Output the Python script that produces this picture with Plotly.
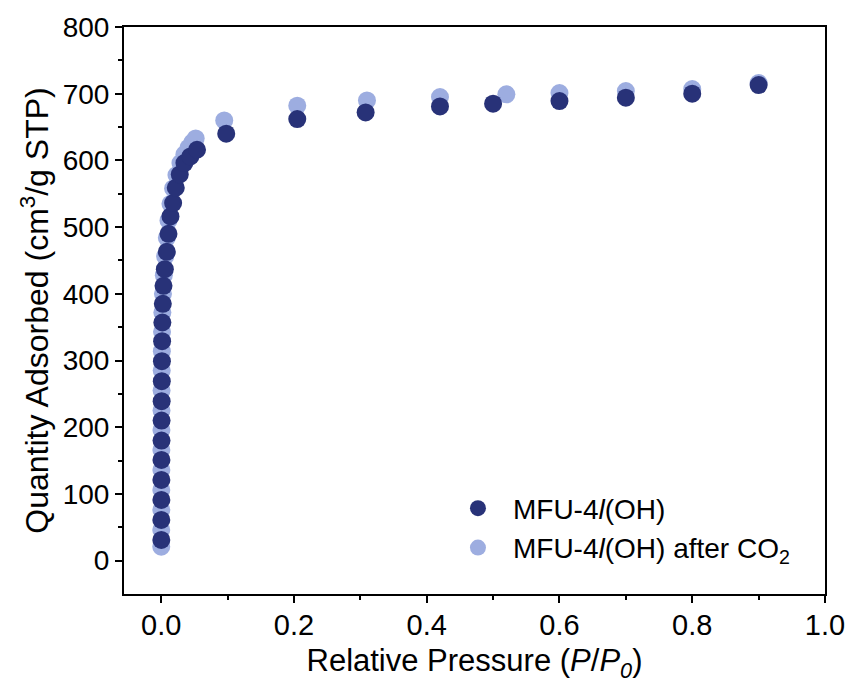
import plotly.graph_objects as go

# MFU-4l(OH) (dark)
x_dark = [0.0002, 0.0002, 0.0003, 0.0003, 0.0004, 0.0005, 0.0006, 0.0007, 0.0009, 0.0011,
          0.0014, 0.0018, 0.0025, 0.0035, 0.0055, 0.0085, 0.011, 0.014, 0.018, 0.022,
          0.028, 0.035, 0.044, 0.054, 0.098, 0.205, 0.308, 0.42, 0.5, 0.6, 0.7, 0.8, 0.9]
y_dark = [31, 61, 91, 121, 151, 180, 210, 239, 269, 299,
          329, 357, 385, 412, 437, 463, 490, 516, 536, 559,
          579, 596, 606, 616, 640, 662, 672, 681, 685, 689, 694, 700, 713]

# MFU-4l(OH) after CO2 (light)
x_light = [0.0001, 0.0001, 0.0002, 0.0002, 0.0003, 0.0003, 0.0004, 0.0005, 0.0006, 0.0008,
           0.001, 0.0013, 0.0018, 0.0027, 0.004, 0.006, 0.0085, 0.011, 0.014, 0.018,
           0.023, 0.029, 0.035, 0.041, 0.047, 0.052, 0.095, 0.205, 0.31, 0.42, 0.52, 0.6, 0.7, 0.8, 0.9]
y_light = [21, 46, 76, 106, 136, 166, 196, 225, 255, 285,
           314, 343, 372, 400, 428, 456, 484, 510, 535, 558,
           578, 596, 609, 619, 627, 633, 660, 682, 690, 695, 699, 701, 704, 707, 716]

x_ticks = [0.0, 0.2, 0.4, 0.6, 0.8, 1.0]
x_ticktext = ["0.0", "0.2", "0.4", "0.6", "0.8", "1.0"]
x_minor = [0.1, 0.3, 0.5, 0.7, 0.9]
y_ticks = [0, 100, 200, 300, 400, 500, 600, 700, 800]
y_minor = [50, 150, 250, 350, 450, 550, 650, 750]

dark_color = "#283278"
light_color = "#9dade0"

fig = go.Figure()
fig.add_trace(go.Scatter(
    x=x_light, y=y_light, mode="markers", name="MFU-4<i>l</i>(OH) after CO<sub>2</sub>",
    marker=dict(size=18, color=light_color, line=dict(width=0)), legendrank=2))
fig.add_trace(go.Scatter(
    x=x_dark, y=y_dark, mode="markers", name="MFU-4<i>l</i>(OH)",
    marker=dict(size=18, color=dark_color, line=dict(width=0)), legendrank=1))

font_family = "Liberation Sans, Arial, sans-serif"

fig.update_layout(
    width=857, height=687,
    margin=dict(l=124, r=27, t=25, b=93),
    paper_bgcolor="white", plot_bgcolor="white",
    font=dict(family=font_family, color="black", size=28),
    showlegend=True,
    legend=dict(x=0.455, y=0.195, xanchor="left", yanchor="top",
                bgcolor="rgba(0,0,0,0)", font=dict(size=28), itemwidth=60,
                tracegroupgap=0),
    xaxis=dict(
        range=[-0.056, 1.0], tickmode="array",
        tickvals=x_ticks, ticktext=x_ticktext,
        ticks="outside", ticklen=7, tickwidth=2, tickcolor="black",
        minor=dict(tickvals=x_minor, ticks="outside", ticklen=4, tickwidth=2, tickcolor="black"),
        showline=True, linewidth=2, linecolor="black", mirror=True,
        showgrid=False, zeroline=False,
        tickfont=dict(size=29), ticklabelstandoff=-3,
        title=dict(text="Relative Pressure (<i>P</i>/<i>P</i><sub><i>0</i></sub>)", font=dict(size=31), standoff=10),
    ),
    yaxis=dict(
        range=[-50, 800], tickmode="array",
        tickvals=y_ticks,
        ticks="outside", ticklen=7, tickwidth=2, tickcolor="black",
        minor=dict(tickvals=y_minor, ticks="outside", ticklen=4, tickwidth=2, tickcolor="black"),
        showline=True, linewidth=2, linecolor="black", mirror=True,
        showgrid=False, zeroline=False,
        tickfont=dict(size=28),
        title=dict(text="Quantity Adsorbed (cm<sup>3</sup>/g STP)", font=dict(size=32), standoff=4),
    ),
)

fig.write_html("out.html")
